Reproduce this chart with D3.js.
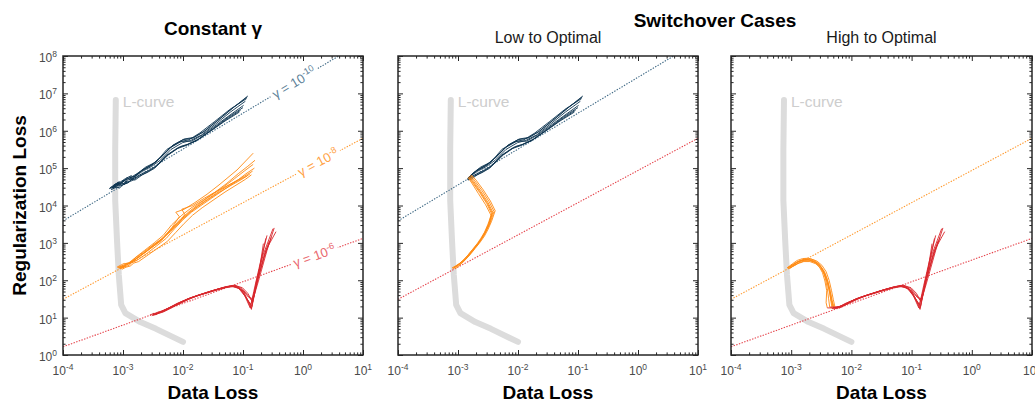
<!DOCTYPE html>
<html><head><meta charset="utf-8">
<script src="https://cdn.jsdelivr.net/npm/d3@7"></script>
<style>
body{margin:0;background:#fff}
svg{display:block}
text{font-family:"Liberation Sans",Arial,Helvetica,sans-serif}
</style>
</head><body>
<svg id="chart" width="1035" height="402"></svg>
<script>
// ---------------- DATA (log10 values) ----------------
const xTickExps = [-4, -3, -2, -1, 0, 1];          // Data Loss decades
const yTickExps = [0, 1, 2, 3, 4, 5, 6, 7, 8];     // Regularization Loss decades
const mainTitles = ["Constant γ", "Switchover Cases"];
const panelSubtitles = ["", "Low to Optimal", "High to Optimal"];
const gammaExponents = [-10, -8, -6];
// log10(regularization loss) of each γ reference line at data loss 1e-4 and 1e1
const gammaLogRegAtMin = [3.59, 1.49, 0.22];
const gammaLogRegAtMax = [8.39, 5.80, 3.12];

// L-curve (log10 data loss, log10 reg loss)
const lCurveLogX = [-3.12, -3.13, -3.13, -3.10, -3.07, -3.03, -2.96, -2.71, -2.45, -2.00];
const lCurveLogY = [6.82, 5.48, 4.14, 3.07, 2.14, 1.34, 1.12, 0.88, 0.70, 0.35];

// Constant γ = 1e-10 trajectories
const blueRuns = [
 [[-3.22,4.47],[-3.12,4.58],[-3.16,4.50],[-3.05,4.55],[-2.98,4.68],[-3.01,4.62],[-2.90,4.74],[-2.80,4.78],[-2.70,4.92],[-2.56,5.04],[-2.44,5.18],[-2.27,5.50],[-2.06,5.70],[-1.90,5.76],[-1.72,5.94],[-1.47,6.25],[-1.22,6.57],[-0.94,6.86]],
 [[-3.18,4.50],[-3.08,4.62],[-3.12,4.55],[-2.99,4.64],[-2.93,4.75],[-2.90,4.70],[-2.78,4.82],[-2.66,4.97],[-2.52,5.08],[-2.40,5.24],[-2.22,5.54],[-2.02,5.72],[-1.86,5.72],[-1.68,5.88],[-1.44,6.16],[-1.20,6.44],[-0.99,6.68]],
 [[-3.20,4.42],[-3.10,4.50],[-3.06,4.46],[-3.00,4.57],[-2.92,4.60],[-2.86,4.70],[-2.80,4.68],[-2.68,4.82],[-2.55,4.94],[-2.42,5.08],[-2.24,5.36],[-2.04,5.58],[-1.92,5.64],[-1.74,5.78],[-1.50,6.06],[-1.24,6.37],[-1.00,6.62]],
 [[-3.16,4.54],[-3.06,4.64],[-3.09,4.58],[-2.96,4.72],[-2.86,4.80],[-2.88,4.74],[-2.74,4.88],[-2.62,5.03],[-2.48,5.14],[-2.34,5.34],[-2.18,5.60],[-2.00,5.76],[-1.84,5.80],[-1.66,5.97],[-1.42,6.28],[-1.18,6.60],[-0.93,6.90]],
 [[-3.21,4.48],[-3.13,4.52],[-3.17,4.46],[-3.03,4.60],[-2.97,4.56],[-2.93,4.68],[-2.82,4.72],[-2.72,4.82],[-2.58,4.93],[-2.45,5.05],[-2.28,5.34],[-2.08,5.55],[-1.94,5.62],[-1.76,5.75],[-1.52,6.02],[-1.28,6.30],[-1.04,6.55]],
 [[-3.19,4.46],[-3.09,4.57],[-3.01,4.53],[-2.95,4.66],[-2.91,4.62],[-2.80,4.78],[-2.67,4.92],[-2.53,5.04],[-2.38,5.21],[-2.20,5.50],[-2.01,5.68],[-1.87,5.74],[-1.69,5.89],[-1.45,6.19],[-1.21,6.50],[-0.96,6.79]],
 [[-3.17,4.49],[-3.07,4.60],[-3.10,4.54],[-2.98,4.68],[-2.88,4.74],[-2.84,4.70],[-2.76,4.85],[-2.64,4.98],[-2.50,5.12],[-2.36,5.30],[-2.16,5.62],[-1.98,5.78],[-1.82,5.82],[-1.64,5.99],[-1.40,6.30],[-1.16,6.62],[-0.92,6.93]],
 [[-3.23,4.45],[-3.14,4.50],[-3.08,4.48],[-3.04,4.56],[-2.94,4.62],[-2.97,4.58],[-2.83,4.68],[-2.74,4.78],[-2.60,4.88],[-2.47,5.00],[-2.30,5.30],[-2.10,5.52],[-1.96,5.60],[-1.78,5.73],[-1.55,5.98],[-1.30,6.26],[-1.06,6.50]]
];
// Constant γ = 1e-8 trajectories
const orangeRuns = [
 [[-3.08,2.33],[-3.00,2.40],[-3.03,2.35],[-2.96,2.42],[-2.82,2.52],[-2.68,2.70],[-2.52,2.88],[-2.36,3.06],[-2.22,3.32],[-2.08,3.55],[-1.92,3.78],[-1.76,3.98],[-1.58,4.18],[-1.38,4.40],[-1.18,4.60],[-0.98,4.78],[-0.84,4.92]],
 [[-3.05,2.30],[-2.98,2.38],[-3.00,2.33],[-2.92,2.44],[-2.78,2.58],[-2.62,2.76],[-2.47,2.95],[-2.32,3.15],[-2.18,3.42],[-2.06,3.70],[-2.12,3.82],[-1.98,3.90],[-1.80,4.08],[-1.60,4.30],[-1.40,4.55],[-1.10,4.95],[-0.83,5.40]],
 [[-3.10,2.35],[-3.02,2.42],[-2.98,2.45],[-2.92,2.43],[-2.84,2.50],[-2.70,2.66],[-2.55,2.84],[-2.40,3.02],[-2.25,3.26],[-2.10,3.50],[-1.95,3.72],[-1.80,3.92],[-1.62,4.12],[-1.42,4.33],[-1.22,4.52],[-1.02,4.70],[-0.88,4.85]],
 [[-3.06,2.32],[-2.99,2.37],[-2.94,2.46],[-2.88,2.44],[-2.80,2.60],[-2.64,2.80],[-2.48,3.00],[-2.33,3.20],[-2.19,3.48],[-2.02,3.74],[-1.85,3.95],[-1.68,4.12],[-1.48,4.34],[-1.28,4.58],[-1.08,4.85],[-0.92,5.05],[-0.80,5.21]],
 [[-3.04,2.31],[-2.97,2.36],[-2.90,2.40],[-2.86,2.46],[-2.76,2.54],[-2.60,2.72],[-2.44,2.92],[-2.28,3.12],[-2.14,3.38],[-2.00,3.62],[-1.86,3.82],[-1.70,4.00],[-1.52,4.20],[-1.32,4.42],[-1.12,4.64],[-0.95,4.85],[-0.81,5.00]],
 [[-3.09,2.34],[-3.01,2.39],[-2.97,2.43],[-2.90,2.47],[-2.83,2.56],[-2.67,2.74],[-2.51,2.93],[-2.35,3.10],[-2.21,3.30],[-2.07,3.52],[-1.97,3.76],[-2.02,3.90],[-1.84,4.00],[-1.64,4.20],[-1.44,4.38],[-1.20,4.58],[-0.93,4.79]],
 [[-3.07,2.33],[-2.99,2.36],[-2.93,2.42],[-2.87,2.48],[-2.79,2.57],[-2.63,2.75],[-2.49,2.95],[-2.34,3.13],[-2.18,3.40],[-2.04,3.64],[-1.88,3.86],[-1.72,4.06],[-1.54,4.26],[-1.34,4.48],[-1.14,4.72],[-0.98,4.92],[-0.83,5.10]],
 [[-3.02,2.29],[-2.95,2.35],[-2.88,2.38],[-2.82,2.46],[-2.74,2.50],[-2.58,2.68],[-2.42,2.86],[-2.26,3.04],[-2.12,3.28],[-1.98,3.52],[-1.84,3.74],[-1.68,3.94],[-1.50,4.14],[-1.30,4.36],[-1.10,4.56],[-0.96,4.70],[-0.86,4.82]]
];
// Constant γ = 1e-6 trajectories
const redRuns = [
 [[-2.55,1.07],[-2.48,1.12],[-2.50,1.08],[-2.40,1.13],[-2.25,1.25],[-2.10,1.38],[-1.95,1.48],[-1.80,1.56],[-1.65,1.64],[-1.50,1.72],[-1.35,1.79],[-1.20,1.84],[-1.08,1.80],[-0.97,1.58],[-0.88,1.26],[-0.80,1.85],[-0.70,2.55],[-0.60,3.20]],
 [[-2.52,1.05],[-2.45,1.11],[-2.47,1.07],[-2.38,1.15],[-2.22,1.27],[-2.08,1.36],[-1.93,1.50],[-1.78,1.58],[-1.62,1.66],[-1.47,1.74],[-1.32,1.80],[-1.18,1.86],[-1.05,1.78],[-0.95,1.55],[-0.86,1.22],[-0.78,1.95],[-0.66,2.70],[-0.50,3.38]],
 [[-2.50,1.08],[-2.43,1.14],[-2.36,1.17],[-2.20,1.29],[-2.05,1.41],[-1.90,1.51],[-1.75,1.60],[-1.60,1.67],[-1.45,1.75],[-1.30,1.82],[-1.15,1.85],[-1.03,1.74],[-0.93,1.48],[-0.85,1.30],[-0.76,2.00],[-0.62,2.80],[-0.45,3.30]],
 [[-2.48,1.10],[-2.40,1.14],[-2.33,1.18],[-2.18,1.30],[-2.03,1.42],[-1.88,1.53],[-1.73,1.61],[-1.58,1.69],[-1.43,1.76],[-1.28,1.83],[-1.14,1.87],[-1.02,1.78],[-0.92,1.60],[-0.84,1.42],[-0.74,2.10],[-0.64,2.70],[-0.56,3.05]],
 [[-2.45,1.09],[-2.38,1.16],[-2.30,1.19],[-2.15,1.32],[-2.00,1.44],[-1.85,1.54],[-1.70,1.62],[-1.55,1.70],[-1.40,1.77],[-1.25,1.83],[-1.12,1.84],[-1.00,1.72],[-0.90,1.40],[-0.86,1.25],[-0.78,1.90],[-0.70,2.50],[-0.62,3.12]],
 [[-2.42,1.11],[-2.35,1.17],[-2.28,1.21],[-2.12,1.34],[-1.98,1.45],[-1.83,1.55],[-1.68,1.63],[-1.53,1.71],[-1.38,1.78],[-1.23,1.84],[-1.10,1.82],[-0.99,1.70],[-0.91,1.55],[-0.83,1.50],[-0.73,2.05],[-0.60,2.80],[-0.48,3.40]],
 [[-2.50,1.06],[-2.43,1.10],[-2.35,1.14],[-2.20,1.26],[-2.05,1.39],[-1.90,1.49],[-1.75,1.59],[-1.60,1.66],[-1.45,1.73],[-1.30,1.80],[-1.16,1.83],[-1.04,1.76],[-0.94,1.52],[-0.87,1.35],[-0.79,1.80],[-0.72,2.35],[-0.66,2.98]],
 [[-2.46,1.08],[-2.39,1.13],[-2.32,1.16],[-2.17,1.28],[-2.02,1.40],[-1.87,1.52],[-1.72,1.61],[-1.57,1.68],[-1.42,1.75],[-1.27,1.81],[-1.13,1.86],[-1.01,1.80],[-0.92,1.65],[-0.85,1.45],[-0.76,1.98],[-0.65,2.60],[-0.53,3.15]]
];
// Low-to-optimal: low-γ phase (orange) trajectories
const lowOrangeRuns = [
 [[-3.10,2.33],[-3.00,2.42],[-2.92,2.52],[-2.84,2.66],[-2.76,2.82],[-2.68,2.98],[-2.62,3.12],[-2.56,3.28],[-2.50,3.50],[-2.44,3.78],[-2.52,4.05],[-2.64,4.35],[-2.76,4.62],[-2.82,4.76]],
 [[-3.08,2.31],[-2.98,2.44],[-2.90,2.55],[-2.82,2.70],[-2.74,2.85],[-2.66,3.00],[-2.60,3.15],[-2.54,3.32],[-2.48,3.55],[-2.42,3.82],[-2.50,4.08],[-2.62,4.38],[-2.74,4.65],[-2.80,4.78]],
 [[-3.06,2.34],[-2.96,2.46],[-2.88,2.58],[-2.80,2.72],[-2.72,2.88],[-2.64,3.04],[-2.57,3.20],[-2.51,3.38],[-2.45,3.60],[-2.40,3.84],[-2.48,4.10],[-2.60,4.40],[-2.72,4.66],[-2.79,4.80]],
 [[-3.09,2.32],[-2.99,2.40],[-2.91,2.50],[-2.83,2.64],[-2.75,2.80],[-2.67,2.96],[-2.61,3.10],[-2.55,3.25],[-2.49,3.46],[-2.45,3.74],[-2.54,4.02],[-2.66,4.32],[-2.77,4.60],[-2.83,4.74]],
 [[-3.05,2.30],[-2.95,2.43],[-2.87,2.56],[-2.79,2.70],[-2.71,2.86],[-2.63,3.02],[-2.56,3.18],[-2.50,3.36],[-2.44,3.58],[-2.38,3.86],[-2.46,4.12],[-2.58,4.42],[-2.70,4.68],[-2.78,4.82]],
 [[-3.07,2.33],[-2.97,2.45],[-2.89,2.54],[-2.81,2.68],[-2.73,2.84],[-2.65,3.00],[-2.59,3.16],[-2.53,3.34],[-2.47,3.52],[-2.43,3.80],[-2.51,4.06],[-2.63,4.36],[-2.75,4.63],[-2.81,4.77]]
];
// High-to-optimal: high-γ phase (orange) trajectories
const highOrangeRuns = [
 [[-3.05,2.33],[-2.97,2.42],[-2.89,2.50],[-2.80,2.55],[-2.70,2.56],[-2.60,2.50],[-2.52,2.40],[-2.45,2.24],[-2.40,2.02],[-2.36,1.75],[-2.33,1.50],[-2.30,1.27]],
 [[-3.03,2.32],[-2.95,2.40],[-2.87,2.47],[-2.78,2.52],[-2.68,2.52],[-2.58,2.46],[-2.50,2.34],[-2.44,2.18],[-2.39,1.96],[-2.35,1.70],[-2.32,1.45],[-2.28,1.25]],
 [[-3.06,2.34],[-2.98,2.44],[-2.90,2.53],[-2.81,2.58],[-2.71,2.59],[-2.61,2.53],[-2.53,2.42],[-2.47,2.26],[-2.43,2.04],[-2.40,1.78],[-2.38,1.52],[-2.36,1.28]],
 [[-3.04,2.31],[-2.96,2.38],[-2.88,2.45],[-2.79,2.50],[-2.69,2.50],[-2.59,2.44],[-2.51,2.32],[-2.45,2.16],[-2.40,1.94],[-2.36,1.66],[-2.34,1.44],[-2.32,1.24]],
 [[-3.05,2.33],[-2.97,2.41],[-2.89,2.49],[-2.80,2.54],[-2.70,2.54],[-2.60,2.48],[-2.52,2.38],[-2.46,2.22],[-2.41,2.00],[-2.37,1.74],[-2.34,1.48],[-2.30,1.26]],
 [[-3.02,2.32],[-2.94,2.43],[-2.86,2.52],[-2.77,2.57],[-2.67,2.57],[-2.57,2.51],[-2.49,2.40],[-2.42,2.23],[-2.37,2.00],[-2.33,1.72],[-2.30,1.48],[-2.27,1.26]],
 [[-3.07,2.33],[-2.99,2.40],[-2.91,2.48],[-2.82,2.53],[-2.72,2.55],[-2.62,2.50],[-2.54,2.38],[-2.48,2.20],[-2.44,1.98],[-2.41,1.72],[-2.42,1.40],[-2.40,1.26]]
];

(function () {
// ---------------- STYLE ----------------
const C = {
  blue: "#0d3450", orange: "#ff8a12", red: "#d8272d",
  blueLine: "#3f6985", orangeLine: "#ff9a30", redLine: "#e5434b",
  blueLab: "#5d7f98", orangeLab: "#ffa246", redLab: "#ea6a70",
  axis: "#262626", tick: "#4a4a4a", lcurve: "#dcdcdc", lcurveLab: "#cdcdcd"
};
const labColors = [C.blueLab, C.orangeLab, C.redLab];

const svg = d3.select("#chart");
const plotTop = 56, plotBottom = 355;
const panels = [
  {left: 63, right: 363},
  {left: 398, right: 698},
  {left: 731, right: 1032}
];

const P = v => Math.pow(10, v);

function makeScales(p) {
  const x = d3.scaleLog().domain([P(xTickExps[0]), P(xTickExps[xTickExps.length-1])]).range([p.left, p.right]);
  const y = d3.scaleLog().domain([P(yTickExps[0]), P(yTickExps[yTickExps.length-1])]).range([plotBottom, plotTop]);
  return {x, y};
}

function minorVals(exps) {
  const out = [];
  for (let i = 0; i < exps.length - 1; i++)
    for (let m = 2; m <= 9; m++) out.push(m * P(exps[i]));
  return out;
}

function drawFrame(g, x, y, showY) {
  const maj = xTickExps.map(P), ymaj = yTickExps.map(P);
  const xmin = minorVals(xTickExps), ymin = minorVals(yTickExps);
  const style = sel => { sel.select(".domain").remove(); sel.selectAll("line").attr("stroke", C.axis).attr("stroke-width", 1); sel.selectAll("text").remove(); };
  const defs = [
    [d3.axisBottom, `translate(0,${plotBottom})`, x, maj, 5],
    [d3.axisBottom, `translate(0,${plotBottom})`, x, xmin, 2.6],
    [d3.axisTop, `translate(0,${plotTop})`, x, maj, 5],
    [d3.axisTop, `translate(0,${plotTop})`, x, xmin, 2.6],
    [d3.axisLeft, `translate(${x.range()[0]},0)`, y, ymaj, 5],
    [d3.axisLeft, `translate(${x.range()[0]},0)`, y, ymin, 2.6],
    [d3.axisRight, `translate(${x.range()[1]},0)`, y, ymaj, 5],
    [d3.axisRight, `translate(${x.range()[1]},0)`, y, ymin, 2.6]
  ];
  defs.forEach(([ax, tr, sc, vals, len]) => {
    g.append("g").attr("transform", tr)
      .call(ax(sc).tickValues(vals).tickSize(-len).tickFormat(""))
      .call(style);
  });
  g.append("rect").attr("x", x.range()[0]).attr("y", plotTop)
    .attr("width", x.range()[1] - x.range()[0]).attr("height", plotBottom - plotTop)
    .attr("fill", "none").attr("stroke", C.axis).attr("stroke-width", 1.5);

  xTickExps.forEach(e => {
    const t = g.append("text").attr("x", x(P(e))).attr("y", 375)
      .attr("text-anchor", "middle").attr("fill", C.tick).style("font-size", "12px");
    t.append("tspan").text("10");
    t.append("tspan").attr("dy", -5).style("font-size", "8.5px").text(String(e));
  });
  if (showY) {
    yTickExps.forEach(e => {
      const t = g.append("text").attr("x", x.range()[0] - 6).attr("y", y(P(e)) + 6)
        .attr("text-anchor", "end").attr("fill", C.tick).style("font-size", "12px");
      t.append("tspan").text("10");
      t.append("tspan").attr("dy", -5).style("font-size", "8.5px").text(String(e));
    });
  }
}

const line = (x, y) => d3.line().x(d => x(P(d[0]))).y(d => y(P(d[1])));

function drawGammaLine(g, x, y, idx, color, withLabel, labelAt) {
  const a = gammaLogRegAtMin[idx], b = gammaLogRegAtMax[idx];
  const x0e = xTickExps[0], x1e = xTickExps[xTickExps.length-1];
  g.append("path").datum([[x0e, a], [x1e, b]])
    .attr("d", line(x, y)).attr("fill", "none")
    .attr("stroke", color).attr("stroke-width", 1.1).attr("stroke-dasharray", "1.4,1.4");
  if (withLabel) {
    const ly = a + (b - a) * (labelAt - x0e) / (x1e - x0e);
    const cx = x(P(labelAt)), cy = y(P(ly));
    const ang = Math.atan2(y(P(b)) - y(P(a)), x(P(x1e)) - x(P(x0e))) * 180 / Math.PI;
    const lg = g.append("g").attr("transform", `translate(${cx},${cy}) rotate(${ang})`);
    const rect = lg.append("rect").attr("fill", "#fff");
    const t = lg.append("text").attr("text-anchor", "middle").attr("y", 4.5)
      .attr("fill", labColors[idx]).style("font-size", "13px");
    t.append("tspan").text("γ = 10");
    t.append("tspan").attr("dy", -5).style("font-size", "9px").text(String(gammaExponents[idx]));
    const bb = t.node().getBBox();
    rect.attr("x", bb.x - 3).attr("y", -4).attr("width", bb.width + 6).attr("height", 8);
  }
}

function drawRuns(g, x, y, runs, color) {
  g.append("g").selectAll("path").data(runs).join("path")
    .attr("d", line(x, y)).attr("fill", "none")
    .attr("stroke", color).attr("stroke-width", 0.9).attr("stroke-linejoin", "round");
}

function drawLCurve(g, x, y) {
  const pts = lCurveLogX.map((v, i) => [v, lCurveLogY[i]]);
  g.append("path").datum(pts).attr("d", line(x, y)).attr("fill", "none")
    .attr("stroke", C.lcurve).attr("stroke-width", 6)
    .attr("stroke-linecap", "round").attr("stroke-linejoin", "round");
  g.append("text").attr("x", x(P(lCurveLogX[0])) + 7).attr("y", y(P(lCurveLogY[0])) + 7)
    .attr("fill", C.lcurveLab).style("font-size", "15.5px").text("L-curve");
}

const defs = svg.append("defs");
panels.forEach((p, i) => {
  defs.append("clipPath").attr("id", "clip" + i).append("rect")
    .attr("x", p.left).attr("y", plotTop).attr("width", p.right - p.left).attr("height", plotBottom - plotTop);
});

// ---- Panel 1: constant γ ----
{
  const {x, y} = makeScales(panels[0]);
  const g = svg.append("g");
  const pg = g.append("g").attr("clip-path", "url(#clip0)");
  drawLCurve(pg, x, y);
  drawGammaLine(pg, x, y, 0, C.blueLine, true, -0.15);
  drawGammaLine(pg, x, y, 1, C.orangeLine, true, 0.25);
  drawGammaLine(pg, x, y, 2, C.redLine, true, 0.19);
  drawRuns(pg, x, y, blueRuns, C.blue);
  drawRuns(pg, x, y, orangeRuns, C.orange);
  drawRuns(pg, x, y, redRuns, C.red);
  drawFrame(g, x, y, true);
}
// ---- Panel 2: low to optimal ----
{
  const {x, y} = makeScales(panels[1]);
  const g = svg.append("g");
  const pg = g.append("g").attr("clip-path", "url(#clip1)");
  drawLCurve(pg, x, y);
  drawGammaLine(pg, x, y, 0, C.blueLine, false);
  drawGammaLine(pg, x, y, 1, C.redLine, false);
  const blueTail = blueRuns.map((r, i) => {
    const o = lowOrangeRuns[i % lowOrangeRuns.length];
    return [o[o.length - 1]].concat(r.filter(d => d[0] >= -2.84));
  });
  drawRuns(pg, x, y, blueTail, C.blue);
  drawRuns(pg, x, y, lowOrangeRuns, C.orange);
  drawFrame(g, x, y, false);
}
// ---- Panel 3: high to optimal ----
{
  const {x, y} = makeScales(panels[2]);
  const g = svg.append("g");
  const pg = g.append("g").attr("clip-path", "url(#clip2)");
  drawLCurve(pg, x, y);
  drawGammaLine(pg, x, y, 1, C.orangeLine, false);
  drawGammaLine(pg, x, y, 2, C.redLine, false);
  drawRuns(pg, x, y, highOrangeRuns, C.orange);
  const redTail = redRuns.map((r, i) => {
    const o = highOrangeRuns[i % highOrangeRuns.length];
    return [o[o.length - 1]].concat(r.filter(d => d[0] >= -2.26));
  });
  drawRuns(pg, x, y, redTail, C.red);
  drawFrame(g, x, y, false);
}

// ---- Titles ----
svg.append("text").attr("x", 213).attr("y", 35).attr("text-anchor", "middle")
  .style("font-size", "19px").style("font-weight", "bold").attr("fill", "#000").text(mainTitles[0]);
svg.append("text").attr("x", 715).attr("y", 26.5).attr("text-anchor", "middle")
  .style("font-size", "19px").style("font-weight", "bold").attr("fill", "#000").text(mainTitles[1]);
[1, 2].forEach(i => {
  const p = panels[i];
  svg.append("text").attr("x", (p.left + p.right) / 2).attr("y", 43).attr("text-anchor", "middle")
    .style("font-size", "16px").attr("fill", "#1a1a1a").text(panelSubtitles[i]);
});
panels.forEach(p => {
  svg.append("text").attr("x", (p.left + p.right) / 2).attr("y", 398.5).attr("text-anchor", "middle")
    .style("font-size", "19px").style("font-weight", "bold").attr("fill", "#000").text("Data Loss");
});
svg.append("text").attr("transform", `translate(25.5,${(plotTop + plotBottom) / 2}) rotate(-90)`)
  .attr("text-anchor", "middle").style("font-size", "19px").style("font-weight", "bold")
  .attr("fill", "#000").text("Regularization Loss");
})();
</script>
</body></html>
